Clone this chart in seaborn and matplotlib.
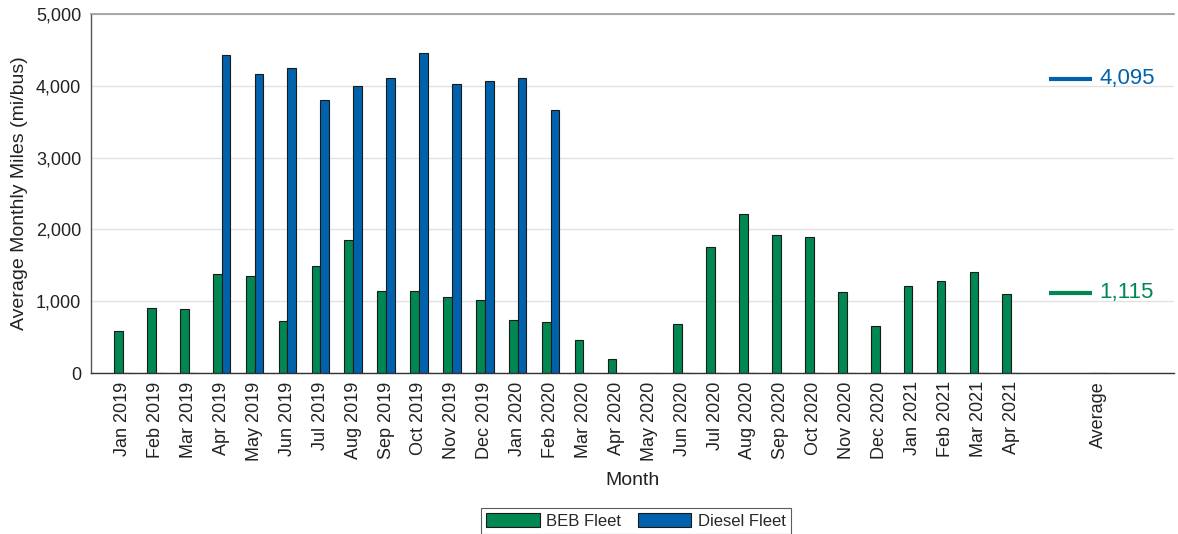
import matplotlib
matplotlib.use("Agg")
import matplotlib.pyplot as plt
import seaborn as sns
import pandas as pd
from matplotlib.patches import Patch

# ---- data ----
months = ["Jan 2019", "Feb 2019", "Mar 2019", "Apr 2019", "May 2019", "Jun 2019",
          "Jul 2019", "Aug 2019", "Sep 2019", "Oct 2019", "Nov 2019", "Dec 2019",
          "Jan 2020", "Feb 2020", "Mar 2020", "Apr 2020", "May 2020", "Jun 2020",
          "Jul 2020", "Aug 2020", "Sep 2020", "Oct 2020", "Nov 2020", "Dec 2020",
          "Jan 2021", "Feb 2021", "Mar 2021", "Apr 2021", "Average"]
beb_fleet = [585, 911, 897, 1384, 1347, 724, 1490, 1858, 1142, 1147, 1054, 1013,
             744, 710, 455, 200, 0, 683, 1751, 2220, 1918, 1894, 1128, 655,
             1212, 1282, 1407, 1101, 0]
diesel_fleet = [0, 0, 0, 4425, 4160, 4244, 3808, 3997, 4109, 4462, 4031, 4073,
                4105, 3668, 0, 0, 0, 0, 0, 0, 0, 0, 0, 0,
                0, 0, 0, 0, 0]
series_names = ["BEB Fleet", "Diesel Fleet"]
averages = [1115, 4095]
avg_labels = ["1,115", "4,095"]
colors = ["#008752", "#0062AC"]

# category positions (Average separated by a gap)
positions = list(range(len(months) - 1)) + [29.65]

df = pd.DataFrame({
    "pos": positions * 2,
    "value": beb_fleet + diesel_fleet,
    "series": [series_names[0]] * len(months) + [series_names[1]] * len(months),
})

sns.set_theme(style="white")
plt.rcParams["font.family"] = ["Liberation Sans", "DejaVu Sans"]

W, H = 1178, 534
fig = plt.figure(figsize=(W / 100, H / 100), dpi=100)
ax = fig.add_axes([91 / W, 1 - 373 / H, (1174 - 91) / W, (373 - 14) / H])

sns.barplot(data=df, x="pos", y="value", hue="series", native_scale=True,
            palette=colors, width=0.53, edgecolor="#1a1a1a", linewidth=0.8,
            ax=ax, legend=False, saturation=1, errorbar=None)

ax.set_xlim(-0.97, 31.95)
ax.set_ylim(0, 5000)
ax.set_yticks([0, 1000, 2000, 3000, 4000, 5000])
ax.set_yticklabels([f"{v:,}" for v in [0, 1000, 2000, 3000, 4000, 5000]])
ax.set_xticks(positions)
ax.set_xticklabels(months, rotation=90)
ax.tick_params(axis="both", length=0, labelsize=13, colors="#222222")
ax.tick_params(axis="y", pad=7)
ax.tick_params(axis="x", pad=6)
ax.yaxis.grid(True, color="#e2e2e2", linewidth=1)
ax.set_axisbelow(True)

for s in ["right"]:
    ax.spines[s].set_visible(False)
ax.spines["top"].set_color("#999999")
ax.spines["top"].set_linewidth(1.2)
ax.spines["left"].set_color("#555555")
ax.spines["bottom"].set_color("#333333")
for s in ["left", "bottom"]:
    ax.spines[s].set_linewidth(1.0)

ax.set_xlabel("Month", fontsize=14, color="#222222", labelpad=8)
ax.set_ylabel("Average Monthly Miles (mi/bus)", fontsize=14, color="#222222", labelpad=6)

# average markers
for val, lab, col in zip(averages, avg_labels, colors):
    ax.hlines(val, 28.15, 29.45, color=col, linewidth=3)
    ax.text(29.68, val, lab, color=col, fontsize=16, va="center", ha="left")

handles = [Patch(facecolor=c, edgecolor="#1a1a1a", linewidth=0.8) for c in colors]
leg = fig.legend(handles, series_names, loc="center",
                 bbox_to_anchor=(636 / W, 1 - 521 / H), ncol=2, fontsize=12,
                 frameon=True, fancybox=False, edgecolor="#333333",
                 handlelength=3.2, handleheight=0.95, columnspacing=1.0,
                 handletextpad=0.4, borderpad=0.3)
leg.get_frame().set_linewidth(0.8)

fig.savefig("out.png", dpi=100)
